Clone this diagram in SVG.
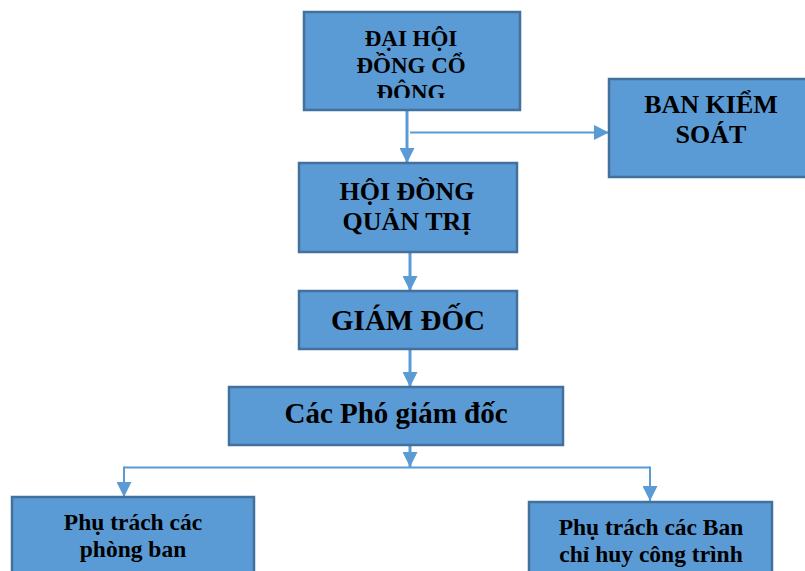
<svg xmlns="http://www.w3.org/2000/svg" width="805" height="571" viewBox="0 0 805 571">
  <style>
    .box { fill: #5B9BD5; stroke: #41719C; stroke-width: 2.5; }
    .t { font-family: "Liberation Serif", "Times New Roman", serif; font-weight: bold; fill: #000; text-anchor: middle; }
    .c { fill: none; stroke: #5B9BD5; }
    .thick { stroke-width: 3; }
    .thin { stroke-width: 2; }
  </style>
  <defs>
    <marker id="arr" markerUnits="userSpaceOnUse" markerWidth="15" markerHeight="15" refX="15" refY="7.5" orient="auto">
      <path d="M0,0 L15,7.5 L0,15 z" fill="#5B9BD5"/>
    </marker>
    <clipPath id="clip1">
      <rect x="305" y="13" width="214" height="85"/>
    </clipPath>
  </defs>
  <rect width="805" height="571" fill="#fff"/>

  <g id="connectors">
    <path class="c thick" d="M407,111 V163" marker-end="url(#arr)"/>
    <path class="c thin" d="M410,132.5 H609" marker-end="url(#arr)"/>
    <path class="c thick" d="M410,252 V291" marker-end="url(#arr)"/>
    <path class="c thick" d="M410,349 V387" marker-end="url(#arr)"/>
    <path class="c thick" d="M410,445 V467" marker-end="url(#arr)"/>
    <path class="c thin" d="M124,467.5 H650"/>
    <path class="c thin" d="M124,466.5 V497" marker-end="url(#arr)"/>
    <path class="c thin" d="M650,466.5 V501" marker-end="url(#arr)"/>
  </g>

  <g id="dai-hoi-dong-co-dong">
    <rect class="box" x="304" y="12" width="216" height="98"/>
    <g clip-path="url(#clip1)">
      <text class="t" x="411" y="46" font-size="23">ĐẠI HỘI</text>
      <text class="t" x="411" y="73" font-size="23">ĐỒNG CỔ</text>
      <text class="t" x="411" y="100" font-size="23">ĐÔNG</text>
    </g>
  </g>

  <g id="ban-kiem-soat">
    <rect class="box" x="609" y="79" width="220" height="98"/>
    <text class="t" x="711" y="113" font-size="26">BAN KIỂM</text>
    <text class="t" x="711" y="143" font-size="26">SOÁT</text>
  </g>

  <g id="hoi-dong-quan-tri">
    <rect class="box" x="299" y="163" width="218" height="89"/>
    <text class="t" x="407" y="200" font-size="26">HỘI ĐỒNG</text>
    <text class="t" x="407" y="230" font-size="26">QUẢN TRỊ</text>
  </g>

  <g id="giam-doc">
    <rect class="box" x="299" y="291" width="218" height="58"/>
    <text class="t" x="408" y="330" font-size="29">GIÁM ĐỐC</text>
  </g>

  <g id="cac-pho-giam-doc">
    <rect class="box" x="229" y="387" width="334" height="58"/>
    <text class="t" x="396" y="423" font-size="29">Các Phó giám đốc</text>
  </g>

  <g id="phu-trach-phong-ban">
    <rect class="box" x="12" y="497" width="242" height="90"/>
    <text class="t" x="133" y="530" font-size="23.5">Phụ trách các</text>
    <text class="t" x="133" y="557" font-size="23.5">phòng ban</text>
  </g>

  <g id="phu-trach-ban-chi-huy">
    <rect class="box" x="529" y="502" width="243" height="90"/>
    <text class="t" x="651" y="535" font-size="23.5">Phụ trách các Ban</text>
    <text class="t" x="651" y="562" font-size="23.5">chỉ huy công trình</text>
  </g>
</svg>
